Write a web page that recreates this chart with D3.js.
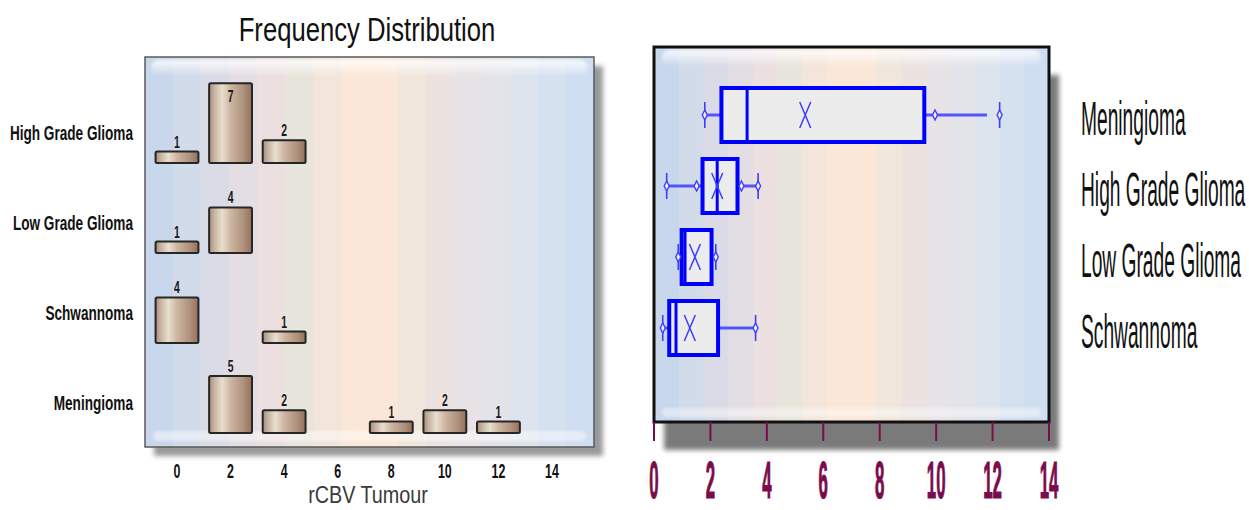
<!DOCTYPE html>
<html>
<head>
<meta charset="utf-8">
<script src="https://cdn.jsdelivr.net/npm/d3@7/dist/d3.min.js"></script>
<style>
  html, body { margin: 0; padding: 0; background: #ffffff; }
  svg { display: block; }
  text { font-family: "Liberation Sans", Arial, sans-serif; }
</style>
</head>
<body>
<svg id="chart" width="1249" height="510"></svg>
<script>
// ---------------- DATA ----------------
const freqCategories = ["High Grade Glioma", "Low Grade Glioma", "Schwannoma", "Meningioma"];
const binCenters = [0, 2, 4, 6, 8, 10, 12, 14];
const countsHighGrade = [1, 7, 2, 0, 0, 0, 0, 0];
const countsLowGrade = [1, 4, 0, 0, 0, 0, 0, 0];
const countsSchwannoma = [4, 0, 1, 0, 0, 0, 0, 0];
const countsMeningioma = [0, 5, 2, 0, 1, 2, 1, 0];
const xTickValues = [0, 2, 4, 6, 8, 10, 12, 14];
const freqTitle = "Frequency Distribution";
const freqXLabel = "rCBV Tumour";

const boxCategories = ["Meningioma", "High Grade Glioma", "Low Grade Glioma", "Schwannoma"];
const boxLow = [1.80, 0.45, 0.86, 0.31];
const boxQ1 = [2.39, 1.72, 0.98, 0.54];
const boxMedian = [3.30, 2.24, 1.10, 0.78];
const boxMean = [5.36, 2.24, 1.45, 1.27];
const boxQ3 = [9.58, 2.96, 2.04, 2.27];
const boxWhiskerEnd = [11.8, 3.69, 2.19, 3.60];
const boxHigh = [12.25, 3.69, 2.19, 3.60];
const boxInnerMarks = [[9.96], [1.51, 3.10], [], []];

// ---------------- SETUP ----------------
const svg = d3.select("#chart");
const defs = svg.append("defs");

const stripeColors = ["#c8d7ec", "#d1dbea", "#dadbe7", "#e3dde4", "#ebdfe0", "#e8e5dc",
  "#f4e5db", "#fbe7d8", "#fbe7d8", "#f1e6dc", "#ece3e0", "#e7e3e6", "#e3e4ea", "#dde4ed", "#d6e1f0", "#d0def1"];
function stripeGradient(id) {
  const g = defs.append("linearGradient").attr("id", id).attr("x1", 0).attr("x2", 1).attr("y1", 0).attr("y2", 0);
  const n = stripeColors.length;
  stripeColors.forEach((c, i) => {
    g.append("stop").attr("offset", i / n).attr("stop-color", c);
    g.append("stop").attr("offset", (i + 1) / n).attr("stop-color", c);
  });
}
stripeGradient("stripesL");
stripeGradient("stripesR");

const barGrad = defs.append("linearGradient").attr("id", "barGrad").attr("x1", 0).attr("x2", 1);
[["0", "#a98c7a"], ["0.12", "#c7b3a2"], ["0.3", "#e8dfcd"], ["0.5", "#cdb6a2"], ["0.8", "#b0917c"], ["1", "#94705a"]]
  .forEach(([o, c]) => barGrad.append("stop").attr("offset", o).attr("stop-color", c));

const glare = defs.append("linearGradient").attr("id", "glare").attr("x1", 0).attr("x2", 0).attr("y1", 0).attr("y2", 1);
glare.append("stop").attr("offset", 0).attr("stop-color", "#fff").attr("stop-opacity", 0.85);
glare.append("stop").attr("offset", 1).attr("stop-color", "#fff").attr("stop-opacity", 0);

const blur = defs.append("filter").attr("id", "blur").attr("x", "-10%").attr("y", "-10%").attr("width", "120%").attr("height", "130%");
blur.append("feGaussianBlur").attr("stdDeviation", 2.5);
const blurSmall = defs.append("filter").attr("id", "blurS");
blurSmall.append("feGaussianBlur").attr("stdDeviation", 1.5);

function label(g, x, y, s, size, weight, sx, anchor, fill) {
  return g.append("text")
    .attr("transform", `translate(${x},${y}) scale(${sx},1)`)
    .attr("text-anchor", anchor)
    .style("font-size", size + "px")
    .style("font-weight", weight)
    .attr("fill", fill)
    .text(s);
}

// ---------------- LEFT: FREQUENCY DISTRIBUTION ----------------
const L = { x: 145, y: 57, w: 449, h: 390 };
const gL = svg.append("g");

gL.append("rect").attr("x", L.x + 9).attr("y", L.y + 9).attr("width", L.w).attr("height", L.h)
  .attr("fill", "#9a9a9a").attr("filter", "url(#blur)");
gL.append("rect").attr("x", L.x).attr("y", L.y).attr("width", L.w).attr("height", L.h)
  .attr("fill", "url(#stripesL)");
gL.append("rect").attr("x", L.x + 6).attr("y", L.y + 3).attr("width", L.w - 12).attr("height", 16).attr("rx", 8)
  .attr("fill", "url(#glare)").attr("filter", "url(#blurS)");
gL.append("rect").attr("x", L.x + 8).attr("y", L.y + L.h - 16).attr("width", L.w - 16).attr("height", 10).attr("rx", 5)
  .attr("fill", "#fff").attr("opacity", 0.45).attr("filter", "url(#blurS)");
gL.append("rect").attr("x", L.x).attr("y", L.y).attr("width", L.w).attr("height", L.h)
  .attr("fill", "none").attr("stroke", "#5a5a5a").attr("stroke-width", 1.5);

const xL = d3.scaleLinear().domain([0, 14]).range([177, 552]);
const yBand = d3.scaleBand().domain(freqCategories).range([73, 433]).paddingInner(0);
const hScale = d3.scaleLinear().domain([0, 7.9]).range([0, 90]);
const barW = xL(1.6) - xL(0);

const freqSeries = [countsHighGrade, countsLowGrade, countsSchwannoma, countsMeningioma];
freqCategories.forEach((cat, ci) => {
  const bandTop = yBand(cat);
  const base = bandTop + yBand.bandwidth();
  const data = binCenters.map((b, i) => ({ b, c: freqSeries[ci][i] })).filter(d => d.c > 0);
  const g = gL.append("g");
  g.selectAll("rect.bar").data(data).enter().append("rect").attr("class", "bar")
    .attr("x", d => xL(d.b) - barW / 2)
    .attr("y", d => base - hScale(d.c))
    .attr("width", barW)
    .attr("height", d => hScale(d.c))
    .attr("rx", 1.5)
    .attr("fill", "url(#barGrad)")
    .attr("stroke", "#262626").attr("stroke-width", 2);
  data.forEach(d => {
    const ly = Math.max(base - hScale(d.c) - 4, bandTop + 29);
    label(g, xL(d.b), ly, d.c, 16, "bold", 0.65, "middle", "#1a1a1a");
  });
  label(gL, 133, base - 23, cat, 20, "bold", 0.68, "end", "#111");
});

xTickValues.forEach(v => label(gL, xL(v), 478, v, 20, "bold", 0.62, "middle", "#111"));
label(gL, 368, 503, freqXLabel, 23, "normal", 0.86, "middle", "#3a3a3a");
label(svg, 367, 41, freqTitle, 34, "normal", 0.755, "middle", "#111");

// ---------------- RIGHT: BOX PLOT ----------------
const R = { x: 654, y: 47, w: 395, h: 375 };
const gR = svg.append("g");
gR.append("rect").attr("x", R.x + 10).attr("y", R.y + 28).attr("width", R.w).attr("height", R.h)
  .attr("fill", "#7a7a7a").attr("filter", "url(#blur)");
gR.append("rect").attr("x", R.x).attr("y", R.y).attr("width", R.w).attr("height", R.h)
  .attr("fill", "url(#stripesR)");
gR.append("rect").attr("x", R.x + 8).attr("y", R.y + 3).attr("width", R.w - 16).attr("height", 16).attr("rx", 8)
  .attr("fill", "url(#glare)").attr("filter", "url(#blurS)");
gR.append("rect").attr("x", R.x + 8).attr("y", R.y + R.h - 14).attr("width", R.w - 16).attr("height", 9).attr("rx", 4)
  .attr("fill", "#fff").attr("opacity", 0.4).attr("filter", "url(#blurS)");
gR.append("rect").attr("x", R.x).attr("y", R.y).attr("width", R.w).attr("height", R.h)
  .attr("fill", "none").attr("stroke", "#111").attr("stroke-width", 3);

const xR = d3.scaleLinear().domain([0, 14]).range([R.x, R.x + R.w]);
const yR = d3.scalePoint().domain(boxCategories).range([115, 328]);
const boxH = 54;
const blue = "#0000ff";
const lightBlue = "#3d3dff";

function diamond(g, x, cy, tick) {
  if (tick) {
    g.append("line").attr("x1", x).attr("x2", x).attr("y1", cy - 13).attr("y2", cy + 13)
      .attr("stroke", lightBlue).attr("stroke-width", 1.6);
  }
  g.append("path").attr("d", `M${x},${cy - 5} L${x + 2.5},${cy} L${x},${cy + 5} L${x - 2.5},${cy} Z`)
    .attr("fill", "#f4f4ff").attr("stroke", lightBlue).attr("stroke-width", 1.4);
}

boxCategories.forEach((cat, i) => {
  const cy = yR(cat);
  const g = gR.append("g");
  g.append("line").attr("x1", xR(boxLow[i])).attr("x2", xR(boxQ1[i])).attr("y1", cy).attr("y2", cy)
    .attr("stroke", lightBlue).attr("stroke-width", 3).attr("opacity", 0.85);
  g.append("line").attr("x1", xR(boxQ3[i])).attr("x2", xR(boxWhiskerEnd[i])).attr("y1", cy).attr("y2", cy)
    .attr("stroke", lightBlue).attr("stroke-width", 3).attr("opacity", 0.85);
  g.append("rect").attr("x", xR(boxQ1[i])).attr("y", cy - boxH / 2)
    .attr("width", xR(boxQ3[i]) - xR(boxQ1[i])).attr("height", boxH)
    .attr("fill", "#ececec").attr("stroke", blue).attr("stroke-width", 4);
  g.append("line").attr("x1", xR(boxMedian[i])).attr("x2", xR(boxMedian[i]))
    .attr("y1", cy - boxH / 2).attr("y2", cy + boxH / 2).attr("stroke", blue).attr("stroke-width", 3);
  const mx = xR(boxMean[i]);
  g.append("path").attr("d", `M${mx - 5.5},${cy - 13} L${mx + 5.5},${cy + 13} M${mx + 5.5},${cy - 13} L${mx - 5.5},${cy + 13}`)
    .attr("stroke", lightBlue).attr("stroke-width", 1.5).attr("fill", "none");
  diamond(g, xR(boxLow[i]), cy, true);
  diamond(g, xR(boxHigh[i]), cy, true);
  boxInnerMarks[i].forEach(v => diamond(g, xR(v), cy, false));
  label(svg, 1081, cy + 20, cat, 48, "normal", 0.4, "start", "#111");
});

const maroon = "#7b0c4c";
const axisG = gR.append("g");
axisG.selectAll("line.tick").data(xTickValues).enter().append("line").attr("class", "tick")
  .attr("x1", d => xR(d)).attr("x2", d => xR(d)).attr("y1", R.y + R.h).attr("y2", 441)
  .attr("stroke", maroon).attr("stroke-width", 2);
xTickValues.forEach(v => label(axisG, xR(v), 498, v, 51, "bold", 0.33, "middle", maroon)
  .attr("stroke", maroon).attr("stroke-width", 1.2));
</script>
</body>
</html>
